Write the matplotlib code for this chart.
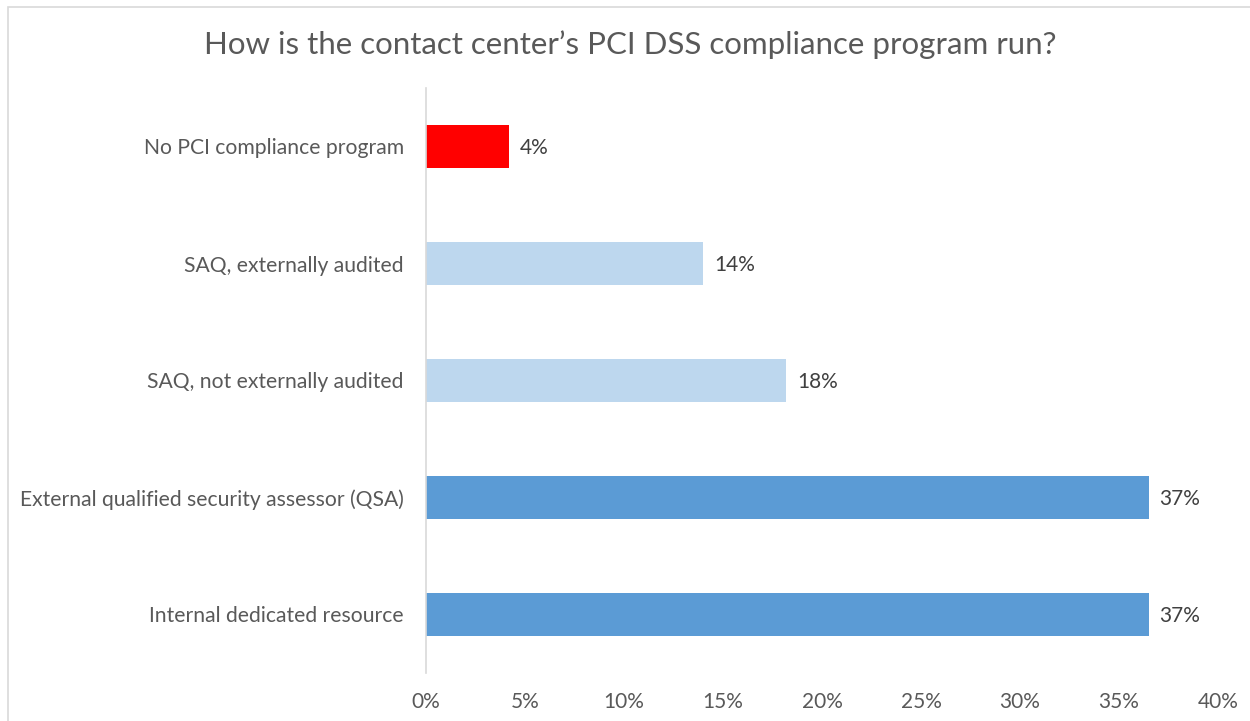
import matplotlib.pyplot as plt
from matplotlib.patches import Rectangle
import numpy as np

categories = ['No PCI compliance program',
              'SAQ, externally audited',
              'SAQ, not externally audited',
              'External qualified security assessor (QSA)',
              'Internal dedicated resource']
values = [4.2, 14.0, 18.2, 36.5, 36.5]
bar_colors = ['#FF0000', '#BDD7EE', '#BDD7EE', '#5B9BD5', '#5B9BD5']
xticks = [0, 5, 10, 15, 20, 25, 30, 35, 40]

plt.rcParams['font.family'] = ['Lato', 'DejaVu Sans']
txt = '#595959'

fig = plt.figure(figsize=(12.5, 7.21), dpi=100, facecolor='w')
# chart border (cut off at right and bottom like the source)
fig.patches.append(Rectangle((8 / 1250, -0.01), 1.02, 1 - 7 / 721 + 0.01,
                             transform=fig.transFigure, fill=False,
                             edgecolor='#D9D9D9', linewidth=1.2))

ax = fig.add_axes([426 / 1250, 1 - 673 / 721, (1218 - 426) / 1250, (673 - 88) / 721])
y = np.arange(len(categories))
ax.barh(y, values, height=0.36, color=bar_colors)
ax.set_ylim(len(categories) - 0.5, -0.5)
ax.set_xlim(0, 40)

for yi, v in zip(y, values):
    ax.text(v + 0.55, yi + 0.015, f'{int(v + 0.5)}%', va='center', ha='left', fontsize=15, color='#404040')

ax.set_yticks(y)
ax.set_yticklabels(categories, fontsize=15.2, color=txt)
ax.set_xticks(xticks)
ax.set_xticklabels([f'{t}%' for t in xticks], fontsize=15, color=txt)
ax.tick_params(axis='both', length=0)
ax.tick_params(axis='y', pad=16)
ax.tick_params(axis='x', pad=14)

for s in ['top', 'right', 'bottom']:
    ax.spines[s].set_visible(False)
ax.spines['left'].set_color('#D9D9D9')
ax.spines['left'].set_linewidth(1.2)

fig.text(630 / 1250, 1 - 45 / 721, 'How is the contact center\u2019s PCI DSS compliance program run?',
         ha='center', va='center', fontsize=22.5, color=txt)

fig.savefig('out.png', dpi=100, facecolor='w')
